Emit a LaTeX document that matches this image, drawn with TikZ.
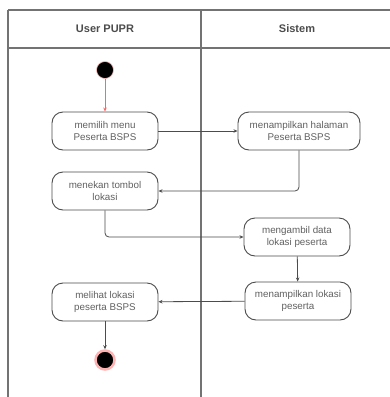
\documentclass[tikz,border=0pt]{standalone}
\usepackage{fontspec}
\setmainfont{Liberation Sans}
\usetikzlibrary{arrows.meta}
\begin{document}
\begin{tikzpicture}[x=1pt,y=-1pt,
  lane/.style={draw=black!55,line width=1.2pt},
  act/.style={draw=black!70,line width=0.9pt,rounded corners=11pt,
    minimum width=106pt,minimum height=38pt,align=center,inner sep=1pt,
    font=\fontsize{9.8}{12.5}\selectfont,text=black!62},
  flow/.style={draw=black!70,line width=0.8pt,-{Stealth[length=4pt,width=3.5pt]}},
  head/.style={font=\fontsize{11}{12}\selectfont\bfseries,text=black!70}]
\useasboundingbox[fill=white] (0,0) rectangle (390,397);
% swimlane frame
\draw[lane] (8,10) -- (390,10);
\draw[lane] (8,48) -- (390,48);
\draw[lane] (8,10) -- (8,397);
\draw[lane] (201,10) -- (201,397);
\node[head] (h1) at (105,29) {User PUPR};
\node[head] (h2) at (297,29) {Sistem};
% initial and final states
\node[circle,fill=black,draw=red!25,line width=0.6pt,minimum size=17pt,inner sep=0pt] (start) at (105,70) {};
\node[circle,fill=black,draw=red!30,line width=2.5pt,minimum size=19pt,inner sep=0pt] (stop) at (105,360) {};
% actions
\node[act] (a1) at (105,131) {memilih menu\\Peserta BSPS};
\node[act,minimum width=122pt] (a2) at (299,131) {menampilkan halaman\\Peserta BSPS};
\node[act] (a3) at (105,191) {menekan tombol\\lokasi};
\node[act] (a4) at (297,237) {mengambil data\\lokasi peserta};
\node[act] (a5) at (298,301) {menampilkan lokasi\\peserta};
\node[act] (a6) at (105,302) {melihat lokasi\\peserta BSPS};
% transitions
\draw[flow,draw=red!60] (start) -- (a1);
\draw[flow] (a1) -- (a2);
\draw[flow,rounded corners=4pt] (a2.south) |- (a3.east);
\draw[flow,rounded corners=4pt] (a3.south) |- (a4.west);
\draw[flow] (a4) -- (a5);
\draw[flow] (a5) -- (a6);
\draw[flow] (a6) -- (stop);
\end{tikzpicture}
\end{document}
